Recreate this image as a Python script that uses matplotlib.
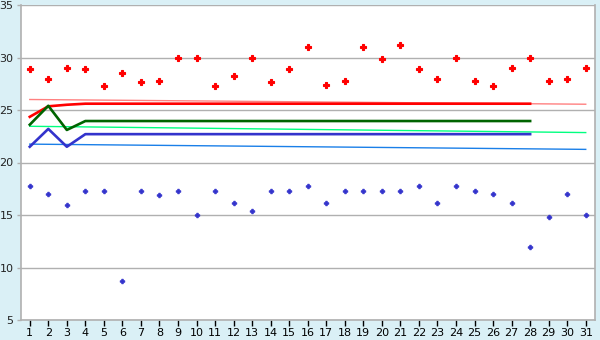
import matplotlib
matplotlib.use('Agg')
import matplotlib.pyplot as plt

days = list(range(1, 32))

# daily highs / lows (scatter)
high = [28.9, 28.0, 29.0, 28.9, 27.3, 28.5, 27.7, 27.8, 30.0, 30.0,
        27.3, 28.2, 30.0, 27.7, 28.9, 31.0, 27.35, 27.8, 31.0, 29.9,
        31.2, 28.9, 28.0, 30.0, 27.8, 27.3, 29.0, 30.0, 27.8, 28.0, 29.0]
low = [17.8, 17.0, 16.0, 17.25, 17.25, 8.7, 17.25, 16.9, 17.25, 15.0,
       17.25, 16.1, 15.35, 17.25, 17.25, 17.8, 16.1, 17.25, 17.25, 17.25,
       17.25, 17.8, 16.1, 17.8, 17.25, 17.0, 16.1, 12.0, 14.8, 17.0, 15.0]

# running averages (days 1..28)
avg_days = list(range(1, 29))
avg_high = [24.35, 25.35, 25.5] + [25.6] * 25
avg_mid = [23.6, 25.4, 23.1] + [23.95] * 25
avg_low = [21.5, 23.2, 21.5] + [22.7] * 25

# long-term normals (start / end of month)
norm_days = [1, 31]
norm_high = [26.0, 25.55]
norm_mid = [23.45, 22.85]
norm_low = [21.75, 21.25]

fig = plt.figure(figsize=(6, 3.4), dpi=100)
fig.patch.set_facecolor('#daf0f6')
ax = fig.add_axes([20.5 / 600, 20 / 340, 574.5 / 600, 315 / 340])
ax.set_facecolor('white')

ax.plot(norm_days, norm_high, color='#ff8080', lw=1.0, zorder=2)
ax.plot(norm_days, norm_mid, color='#00ff80', lw=1.0, zorder=2)
ax.plot(norm_days, norm_low, color='#1a7fe8', lw=1.0, zorder=2)

ax.plot(avg_days, avg_high, color='#ff0000', lw=1.9, zorder=3)
ax.plot(avg_days, avg_mid, color='#006400', lw=1.9, zorder=3)
ax.plot(avg_days, avg_low, color='#3333cc', lw=1.9, zorder=3)

ax.plot(days, high, ls='none', marker='P', ms=4.2, color='#ff0000',
        markeredgewidth=0.8, markeredgecolor='#ff0000', zorder=4)
ax.plot(days, low, ls='none', marker='P', ms=3.3, color='#3333cc',
        markeredgewidth=0.6, markeredgecolor='#3333cc', zorder=4)

ax.set_xlim(0.5, 31.5)
ax.set_ylim(5, 35)
ax.set_xticks(days)
ax.set_xticklabels([str(d) for d in days])
ax.set_yticks(range(5, 36, 5))
ax.yaxis.grid(True, color='#b0b0b0', lw=1)
ax.set_axisbelow(True)

for side in ['left', 'bottom', 'right']:
    ax.spines[side].set_color('#b0b0b0')
    ax.spines[side].set_linewidth(1.2)
ax.spines['top'].set_visible(False)

ax.tick_params(axis='x', length=4, width=1, color='black', pad=2,
               labelsize=8, labelcolor='black')
ax.tick_params(axis='y', length=3, width=1, color='#b0b0b0', pad=2,
               labelsize=8, labelcolor='#222222')

fig.savefig('out.png', dpi=100, facecolor=fig.get_facecolor())
